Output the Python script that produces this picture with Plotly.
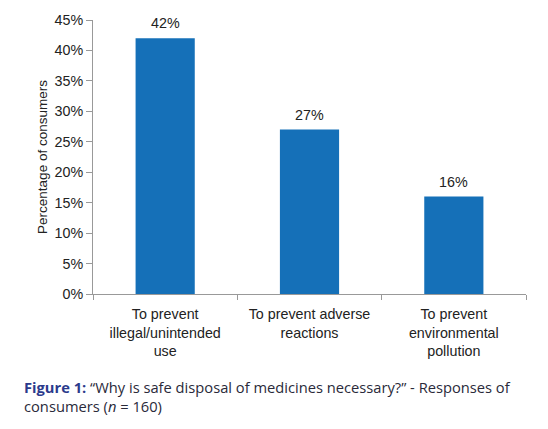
import plotly.graph_objects as go

categories = ["To prevent<br>illegal/unintended<br>use", "To prevent adverse<br>reactions", "To prevent<br>environmental<br>pollution"]
values = [42, 27, 16]
value_labels = ["42%", "27%", "16%"]
y_ticks = [0, 5, 10, 15, 20, 25, 30, 35, 40, 45]
y_tick_labels = ["0%", "5%", "10%", "15%", "20%", "25%", "30%", "35%", "40%", "45%"]

FONT = "Liberation Sans, Arial"
TXT = "#222222"

fig = go.Figure()
fig.add_trace(go.Bar(
    x=categories, y=values,
    marker=dict(color="#1570b8", line=dict(width=0)),
))
for c, v, t in zip(categories, values, value_labels):
    fig.add_annotation(x=c, y=v, text=t, showarrow=False, yanchor="bottom", yshift=5,
                       font=dict(family=FONT, size=14.3, color=TXT))

fig.update_layout(
    width=548, height=429,
    margin=dict(l=93, r=22, t=20, b=135),
    paper_bgcolor="white", plot_bgcolor="white",
    bargap=0.59,
    showlegend=False,
    font=dict(family=FONT, size=14.3, color=TXT),
)
fig.update_yaxes(
    range=[0, 45], tickvals=y_ticks, ticktext=y_tick_labels,
    showgrid=False, zeroline=False, showline=True, linecolor="#999999", linewidth=1,
    ticks="outside", ticklen=6, tickcolor="#999999",
    tickfont=dict(size=14.3, color=TXT),
    title=dict(text="Percentage of consumers", font=dict(size=13.5, color=TXT), standoff=3),
)
fig.update_xaxes(
    showgrid=False, showline=True, linecolor="#999999", linewidth=1,
    ticks="outside", ticklen=5, tickcolor="#999999", tickson="boundaries",
    tickfont=dict(size=14.3, color=TXT), ticklabelstandoff=7,
)

fig.add_annotation(
    xref="paper", yref="paper", x=-0.163, y=-0.295, xanchor="left", yanchor="top",
    align="left", showarrow=False,
    text="<b><span style='color:#2b3a8c'>Figure 1:</span></b> \u201cWhy is safe disposal of medicines necessary?\u201d - Responses of<br>consumers (<i>n</i> = 160)",
    font=dict(family="Open Sans, Lato", size=14.7, color="#2a2a3a"),
)

fig.write_html("out.html", config={"displayModeBar": False},
               post_script="document.body.style.margin='0';document.body.style.padding='0';")
